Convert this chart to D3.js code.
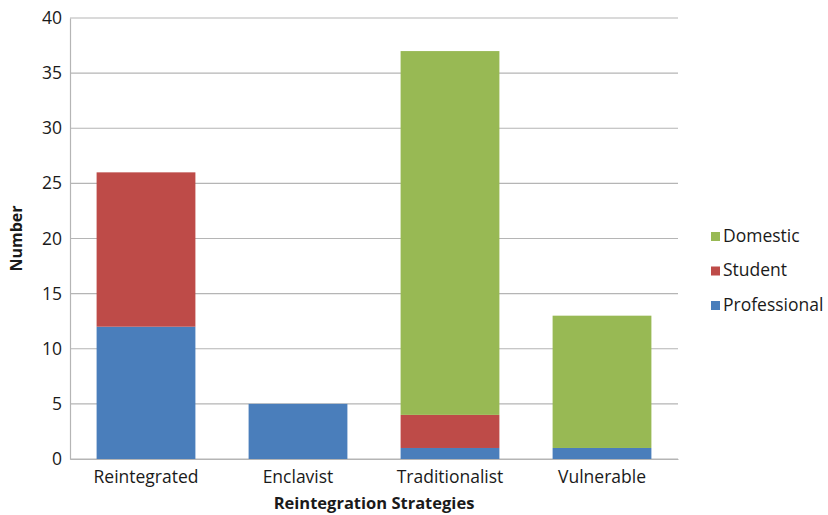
<!DOCTYPE html>
<html>
<head>
<meta charset="utf-8">
<script src="https://cdn.jsdelivr.net/npm/d3@7"></script>
<style>
  html, body { margin: 0; padding: 0; background: #fff; }
  svg text { font-family: "Open Sans", sans-serif; fill: #1a1a1a; }
</style>
</head>
<body>
<svg id="chart" width="828" height="515"></svg>
<script>
// Reintegration strategies by migrant type
const categories = ["Reintegrated", "Enclavist", "Traditionalist", "Vulnerable"];
const seriesNames = ["Professional", "Student", "Domestic"];
const professional = [12, 5, 1, 1];
const student = [14, 0, 3, 0];
const domestic = [0, 0, 33, 12];
const yTicks = [0, 5, 10, 15, 20, 25, 30, 35, 40];
const colors = { Professional: "#4a7ebb", Student: "#be4b48", Domestic: "#98b954" };

const rows = categories.map((c, i) => ({
  category: c,
  Professional: professional[i],
  Student: student[i],
  Domestic: domestic[i]
}));

const svg = d3.select("#chart");
const margin = { left: 70, right: 150, top: 18, bottom: 56 };
const width = 828 - margin.left - margin.right;
const height = 515 - margin.top - margin.bottom;
const g = svg.append("g").attr("transform", `translate(${margin.left},${margin.top})`);

const x = d3.scaleBand().domain(categories).range([0, width]).paddingInner(0.35).paddingOuter(0.175);
const y = d3.scaleLinear().domain([0, 40]).range([height, 0]);

// gridlines
g.append("g").selectAll("line").data(yTicks).join("line")
  .attr("x1", 0).attr("x2", width)
  .attr("y1", d => y(d)).attr("y2", d => y(d))
  .attr("stroke", "#b5b5b5").attr("stroke-width", 1.2);

// stacked bars
const stack = d3.stack().keys(seriesNames)(rows);
g.append("g").selectAll("g").data(stack).join("g")
  .attr("fill", d => colors[d.key])
  .selectAll("rect").data(d => d).join("rect")
  .attr("x", d => x(d.data.category))
  .attr("width", x.bandwidth())
  .attr("y", d => y(d[1]))
  .attr("height", d => y(d[0]) - y(d[1]));

// y axis
const yAxis = g.append("g").call(d3.axisLeft(y).tickValues(yTicks).tickSize(0).tickPadding(8));
yAxis.select(".domain").attr("stroke", "#b5b5b5").attr("stroke-width", 1.2);
yAxis.selectAll("text").attr("font-size", 17.5).attr("fill", "#1a1a1a").attr("font-family", "Open Sans, sans-serif");

// x axis
const xAxis = g.append("g").attr("transform", `translate(0,${height})`)
  .call(d3.axisBottom(x).tickSize(0).tickPadding(12));
xAxis.select(".domain").attr("stroke", "#b5b5b5").attr("stroke-width", 1.2);
xAxis.selectAll("text").attr("font-size", 17.5).attr("fill", "#1a1a1a").attr("font-family", "Open Sans, sans-serif");

// axis titles
svg.append("text")
  .attr("transform", `translate(18,${margin.top + height / 2}) rotate(-90)`)
  .attr("text-anchor", "middle").attr("dominant-baseline", "middle")
  .attr("font-size", 16).attr("font-weight", "bold").text("Number");
svg.append("text")
  .attr("x", margin.left + width / 2).attr("y", 509)
  .attr("text-anchor", "middle")
  .attr("font-size", 16.5).attr("font-weight", "bold").text("Reintegration Strategies");

// legend
const legendOrder = ["Domestic", "Student", "Professional"];
const legend = svg.append("g").attr("transform", "translate(711,237)");
const items = legend.selectAll("g").data(legendOrder).join("g")
  .attr("transform", (d, i) => `translate(0,${i * 34.5})`);
items.append("rect").attr("x", 0).attr("y", -5).attr("width", 9).attr("height", 9)
  .attr("fill", d => colors[d]);
items.append("text").attr("x", 12).attr("y", 0).attr("dominant-baseline", "middle")
  .attr("font-size", 17.5).text(d => d);
</script>
</body>
</html>
